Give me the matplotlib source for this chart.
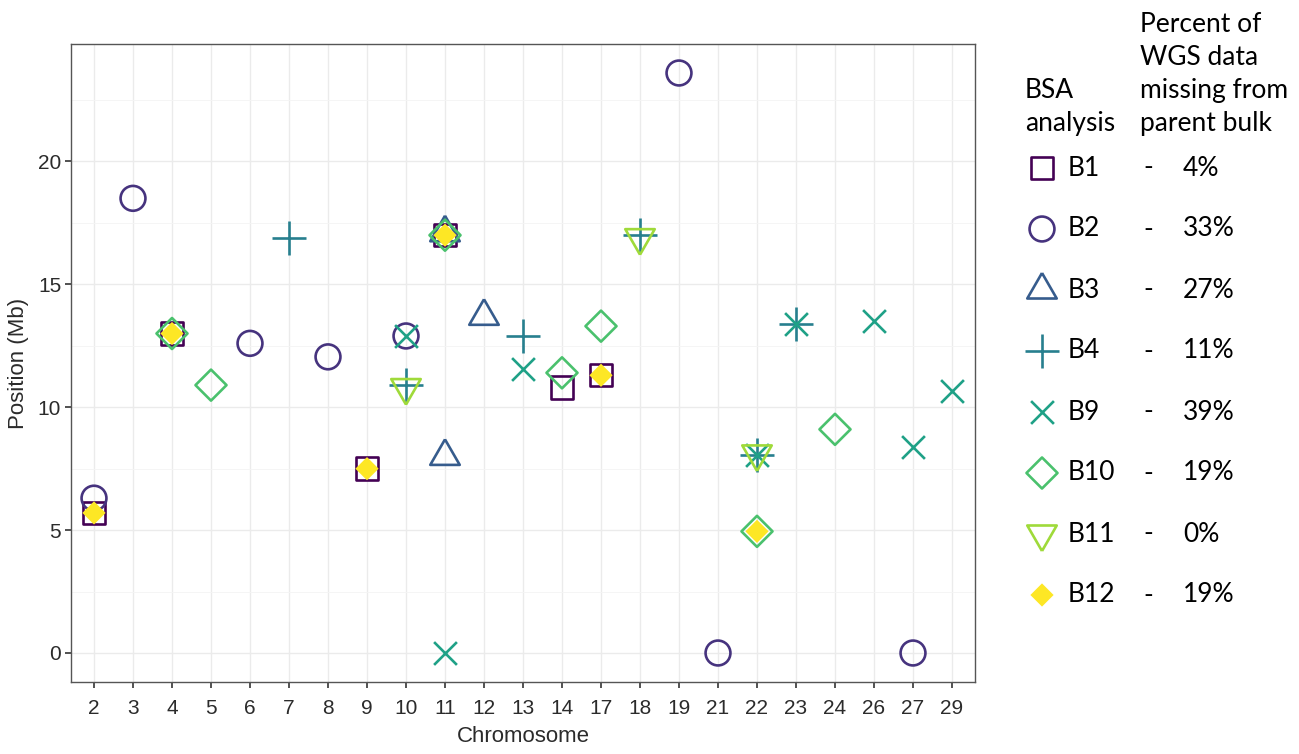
import numpy as np
import matplotlib
matplotlib.use("Agg")
import matplotlib.pyplot as plt

chromosomes = ["2", "3", "4", "5", "6", "7", "8", "9", "10", "11", "12", "13",
               "14", "17", "18", "19", "21", "22", "23", "24", "26", "27", "29"]

# (chromosome, position Mb) per BSA analysis
b1_chr = ["2", "4", "9", "11", "14", "17"]
b1_pos = [5.7, 13.0, 7.5, 17.0, 10.8, 11.3]
b2_chr = ["2", "3", "6", "8", "10", "19", "21", "27"]
b2_pos = [6.3, 18.5, 12.6, 12.05, 12.9, 23.6, 0.0, 0.0]
b3_chr = ["11", "11", "12"]
b3_pos = [17.1, 8.0, 13.7]
b4_chr = ["7", "10", "13", "18", "22", "23"]
b4_pos = [16.9, 10.9, 12.9, 17.0, 8.05, 13.4]
b9_chr = ["10", "11", "13", "22", "23", "26", "27", "29"]
b9_pos = [12.9, 0.0, 11.55, 8.05, 13.4, 13.5, 8.4, 10.65]
b10_chr = ["4", "5", "11", "14", "17", "22", "24"]
b10_pos = [13.0, 10.9, 17.0, 11.4, 13.3, 4.95, 9.1]
b11_chr = ["10", "18", "22"]
b11_pos = [10.8, 16.9, 8.1]
b12_chr = ["2", "4", "9", "11", "17", "22"]
b12_pos = [5.7, 13.0, 7.5, 17.0, 11.3, 4.95]

names = ["B1", "B2", "B3", "B4", "B9", "B10", "B11", "B12"]
missing = ["4%", "33%", "27%", "11%", "39%", "19%", "0%", "19%"]
colors = ["#440154", "#46337E", "#365C8D", "#277F8E",
          "#1FA187", "#4AC16D", "#9FDA3A", "#FDE725"]

tri_up = [(0, 1), (-0.866, -0.5), (0.866, -0.5), (0, 1)]
tri_dn = [(0, -1), (-0.866, 0.5), (0.866, 0.5), (0, -1)]
markers = ["s", "o", tri_up, "+", "x", "D", tri_dn, "D"]
sizes = [260, 320, 600, 580, 270, 250, 600, 140]
filled = [False] * 7 + [True]

series = [(b1_chr, b1_pos), (b2_chr, b2_pos), (b3_chr, b3_pos), (b4_chr, b4_pos),
          (b9_chr, b9_pos), (b10_chr, b10_pos), (b11_chr, b11_pos), (b12_chr, b12_pos)]

tick_font = "Liberation Sans"
leg_font = "Lato"
txt_col = "#2B2B2B"

fig = plt.figure(figsize=(12.99, 7.54), dpi=100)
ax = fig.add_axes([70.6 / 1299, 1 - 682 / 754, (975.4 - 70.6) / 1299, (682 - 44) / 754])

idx = {c: i for i, c in enumerate(chromosomes)}


def draw(a, xs, ys, k):
    if filled[k]:
        a.scatter(xs, ys, marker=markers[k], s=sizes[k], c=colors[k],
                  edgecolors="none", zorder=3 + k)
    elif markers[k] in ("+", "x"):
        a.scatter(xs, ys, marker=markers[k], s=sizes[k], c=colors[k],
                  linewidths=1.9, zorder=3 + k)
    else:
        a.scatter(xs, ys, marker=markers[k], s=sizes[k], facecolors="none",
                  edgecolors=colors[k], linewidths=1.9, zorder=3 + k)


for k, (cs, ps) in enumerate(series):
    draw(ax, [idx[c] for c in cs], ps, k)

ax.set_xlim(-0.6, len(chromosomes) - 0.4)
ax.set_ylim(-1.18, 24.78)
ax.set_xticks(range(len(chromosomes)))
ax.set_xticklabels(chromosomes)
ax.set_yticks([0, 5, 10, 15, 20])
ax.set_yticks([2.5, 7.5, 12.5, 17.5, 22.5], minor=True)
ax.grid(True, which="major", color="#EBEBEB", lw=1.0, zorder=0)
ax.grid(True, which="minor", axis="y", color="#F4F4F4", lw=0.6, zorder=0)
ax.set_axisbelow(True)
for sp in ax.spines.values():
    sp.set_color("#555555")
    sp.set_linewidth(1.0)
ax.tick_params(which="major", length=4.3, width=1.2, color="#333333",
               labelsize=15, labelcolor=txt_col)
ax.tick_params(axis="x", pad=8)
ax.tick_params(axis="y", pad=2.5)
ax.tick_params(which="minor", length=0)
for lab in ax.get_xticklabels() + ax.get_yticklabels():
    lab.set_fontfamily(tick_font)
ax.set_xlabel("Chromosome", fontsize=16, family=tick_font, color=txt_col, labelpad=6)
ax.set_ylabel("Position (Mb)", fontsize=16, family=tick_font, color=txt_col, labelpad=6)

# legend drawn in pixel coordinates on an overlay
lg = fig.add_axes([0, 0, 1, 1])
lg.set_xlim(0, 1299)
lg.set_ylim(754, 0)
lg.axis("off")

for i, line in enumerate(["Percent of", "WGS data", "missing from", "parent bulk"]):
    lg.text(1140, 32 + i * 33, line, fontsize=19, family=leg_font, va="baseline")
for i, line in enumerate(["BSA", "analysis"]):
    lg.text(1025, 98 + i * 33, line, fontsize=19, family=leg_font, va="baseline")

for k in range(len(names)):
    yy = 168 + k * 61
    draw(lg, [1042], [yy], k)
    lg.text(1068, yy, names[k], fontsize=19, family=leg_font, va="center")
    lg.text(1148, yy, "-", fontsize=19, family=leg_font, va="center", ha="center")
    lg.text(1183, yy, missing[k], fontsize=19, family=leg_font, va="center")

fig.savefig("out.png", dpi=100)
